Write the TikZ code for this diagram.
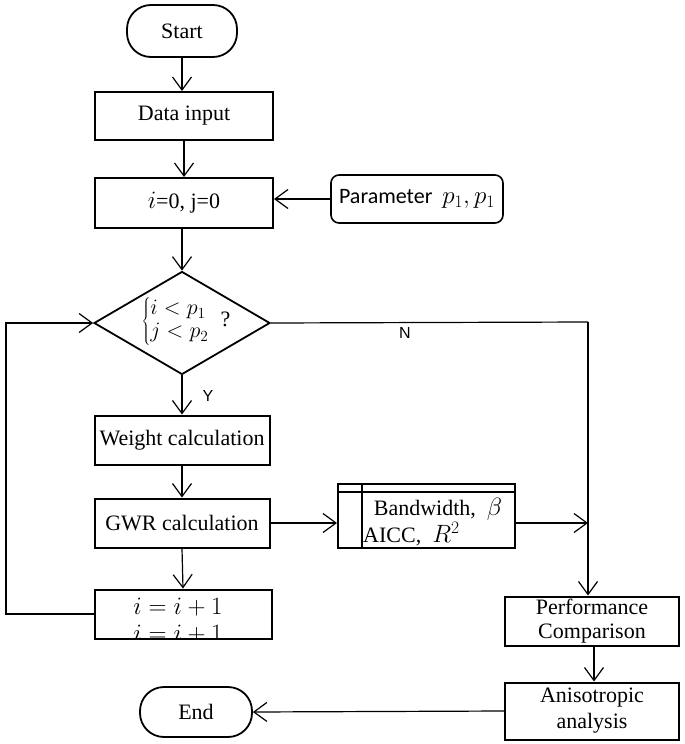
\RequirePackage{fix-cm}
\documentclass[tikz,border=0pt]{standalone}
\usepackage{fontspec}
\setmainfont{Liberation Serif}
\newfontfamily\calfont{Carlito}
\newfontfamily\arialfont{Liberation Sans}
\usetikzlibrary{arrows.meta,shapes.geometric,calc}
\newcommand{\lgmath}[1]{{\fontsize{25}{28}\selectfont$#1$}}
\begin{document}
\begin{tikzpicture}[x=1pt,y=-1pt,
  every node/.style={font=\fontsize{22}{26}\selectfont},
  box/.style={draw,line width=2pt,rectangle,inner sep=0pt,align=center},
  term/.style={draw,line width=1.8pt,rectangle,rounded corners=24pt,inner sep=0pt},
  conn/.style={line width=1.2pt,-{Straight Barb[length=13pt,width=19pt,line width=1.2pt]}},
  plain/.style={line width=1.2pt},
  lab/.style={font=\arialfont\fontsize{16}{18}\selectfont}]
\useasboundingbox (0,0) rectangle (685,744);

\node[term,minimum width=110pt,minimum height=52pt] (start) at (182,31) {Start};
\node[box,minimum width=178pt,minimum height=48pt] (data) at (184,116) {Data input};
\node[box,minimum width=178pt,minimum height=50pt] (init) at (184,203) {\lgmath{i}=0, j=0};
\node[draw,line width=1.6pt,rounded corners=8pt,minimum width=172pt,minimum height=48pt,inner sep=0pt,font=\calfont\fontsize{22}{26}\selectfont] (param) at (417,199) {Parameter\ \ \lgmath{p_1,p_1}};
\node[diamond,draw,line width=1.8pt,minimum width=176pt,minimum height=103pt,inner sep=0pt] (dia) at (182,323) {};
\node (cond) at (186,321) {$\left\{\begin{array}{@{}l@{}} i<p_1\\[-3pt] j<p_2\end{array}\right.$\ \ ?};
\node[box,minimum width=175pt,minimum height=49pt] (weight) at (182,440) {Weight calculation};
\node[box,minimum width=175pt,minimum height=49pt] (gwr) at (182,523) {GWR calculation};
\node[box,minimum width=177pt,minimum height=64pt] (bw) at (426.5,516) {};
\draw[line width=2pt] (362,484) -- (362,548);
\draw[line width=2pt] (338,492) -- (515,492);
\node[anchor=center] (bwt) at (438,509) {Bandwidth,\ \ \lgmath{\beta}};
\node[anchor=west,inner sep=0pt] (aicc) at (363,534) {AICC,\ \ \lgmath{R^2}};
\node[box,minimum width=177pt,minimum height=49pt] (incr) at (183,614) {};
\begin{scope}
\clip (incr.south west) rectangle (incr.north east);
\node (l1) at (178,607) {\lgmath{i=i+1}};
\node (l2) at (178,634) {\lgmath{i=i+1}};
\end{scope}
\node[box,minimum width=174pt,minimum height=49pt,font=\fontsize{22}{24}\selectfont] (perf) at (592,621) {Performance\\Comparison};
\node[box,minimum width=174pt,minimum height=57pt,font=\fontsize{22}{26}\selectfont] (anis) at (592,711) {Anisotropic\\analysis};
\node[term,minimum width=112pt,minimum height=50pt] (end) at (196,712) {End};

\coordinate (nc) at (588,322);
\coordinate (lc) at (6,614);

\draw[conn] (start.south) -- (start.south |- data.north);
\draw[conn] (data.south) -- (data.south |- init.north);
\draw[conn] (param.west) -- (init.east |- param.west);
\draw[conn] (init.south -| dia.north) -- (dia.north);
\draw[conn] (dia.south) -- (weight.north);
\node[lab] (y) at (208,396) {Y};
\draw[conn] (weight.south) -- (gwr.north);
\draw[conn] (gwr.south) -- (incr.north);
\draw[conn] (gwr.east) -- (bw.west |- gwr.east);
\draw[plain] (dia.east) -- (nc);
\draw[conn] (nc) -- (nc |- perf.north);
\node[lab] (n) at (405,333) {N};
\draw[conn] (bw.east |- gwr.east) -- (nc |- gwr.east);
\draw[conn] (incr.west) -- (lc) |- (dia.west);
\draw[conn] ($(perf.south)+(2,0)$) -- ($(anis.north)+(2,0)$);
\draw[conn] (anis.west) -- (end.east);
\end{tikzpicture}
\end{document}
